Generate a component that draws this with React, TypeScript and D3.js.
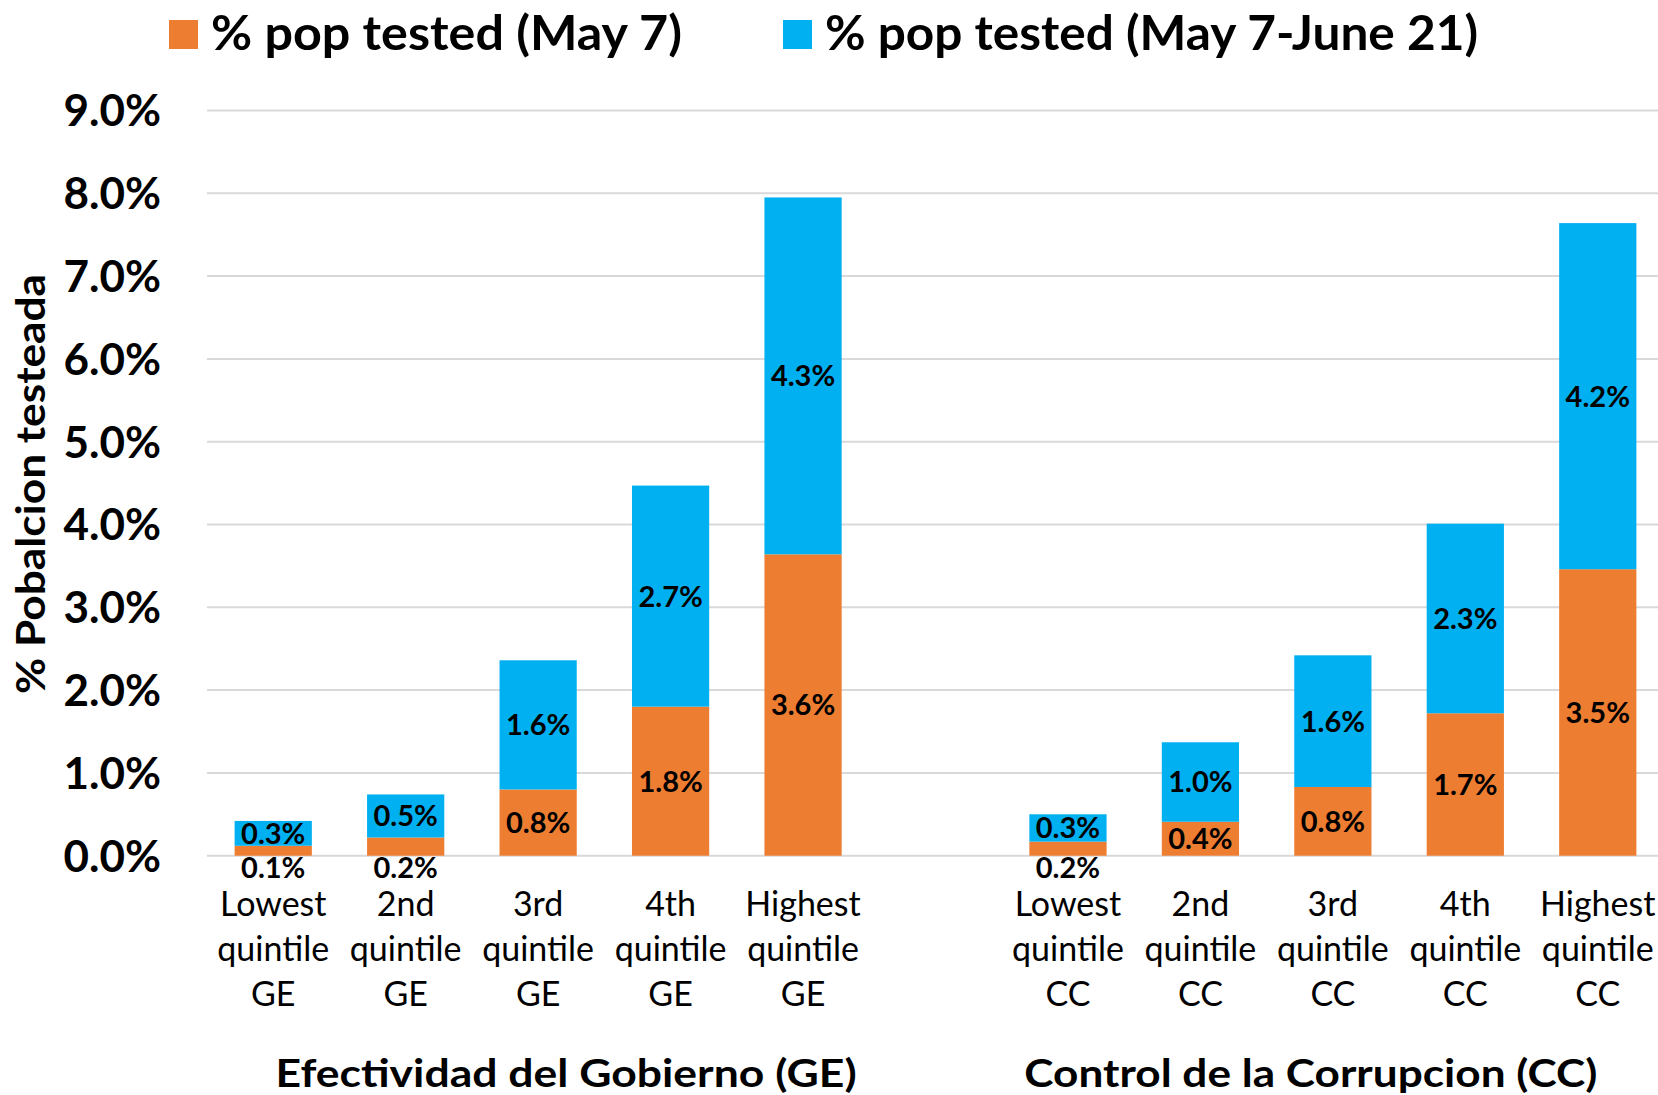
import * as d3 from 'd3'

const W = 1658
const H = 1095

// series, in % of population
const QUINTILES = ['Lowest', '2nd', '3rd', '4th', 'Highest']
const GROUPS = ['GE', 'CC']
const GROUP_TITLES = ['Efectividad del Gobierno (GE)', 'Control de la Corrupcion (CC)']
const GE_MAY7 = [0.12, 0.22, 0.8, 1.8, 3.64]
const GE_JUNE21 = [0.3, 0.52, 1.56, 2.67, 4.31]
const CC_MAY7 = [0.17, 0.41, 0.83, 1.72, 3.46]
const CC_JUNE21 = [0.33, 0.96, 1.59, 2.29, 4.18]
const Y_TICKS = [0, 1, 2, 3, 4, 5, 6, 7, 8, 9]
const LEGEND = ['% pop tested (May 7)', '% pop tested (May 7-June 21)']

const ORANGE = '#ED7D31'
const BLUE = '#00B0F0'
const FONT = 'Lato, "Open Sans", sans-serif'

// 11 slots on the axis: 5 GE, one empty, 5 CC
const CATEGORIES = [
  ...QUINTILES.map((q) => `GE-${q}`),
  'gap',
  ...QUINTILES.map((q) => `CC-${q}`),
]

const rows = [
  ...QUINTILES.map((q, i) => ({ key: `GE-${q}`, quintile: q, group: 'GE', a: GE_MAY7[i], b: GE_JUNE21[i] })),
  ...QUINTILES.map((q, i) => ({ key: `CC-${q}`, quintile: q, group: 'CC', a: CC_MAY7[i], b: CC_JUNE21[i] })),
]

const margin = { left: 207, right: -6, top: 110.5, bottom: H - 855.7 }

export default function App() {
  const x = d3
    .scaleBand()
    .domain(CATEGORIES)
    .range([margin.left, W - margin.right])
    .paddingInner(0.417)
    .paddingOuter(0.2085)
  const y = d3.scaleLinear().domain([0, 9]).range([H - margin.bottom, margin.top])
  const bw = x.bandwidth()
  const fmt = (v: number) => v.toFixed(1) + '%'

  const series = d3.stack<any>().keys(['a', 'b'])(rows)

  // group titles sit a bit off the group centre, as in the original
  const titleOffsets = [28, -22]
  const titleLengths = [581, 573]
  const legendX = [169, 783]
  const legendLengths = [471, 653]

  return (
    <svg
      width={W}
      height={H}
      style={{ position: 'absolute', left: 0, top: 0, background: '#fff' }}
      fontFamily={FONT}
    >
      {/* gridlines */}
      {Y_TICKS.map((t) => (
        <line key={t} x1={margin.left} x2={W} y1={y(t)} y2={y(t)} stroke="#d9d9d9" strokeWidth={2} />
      ))}

      {/* y tick labels */}
      {Y_TICKS.map((t) => (
        <text key={t} x={161} y={y(t)} dy="0.36em" textAnchor="end" fontSize={44} fontWeight={700}>
          {fmt(t)}
        </text>
      ))}

      {/* y title */}
      <text
        transform="translate(45,484) rotate(-90)"
        textAnchor="middle"
        fontSize={41}
        fontWeight={700}
        textLength={420}
        lengthAdjust="spacingAndGlyphs"
      >
        % Pobalcion testeada
      </text>

      {/* bars */}
      {series.map((s, si) => (
        <g key={s.key} fill={si === 0 ? ORANGE : BLUE}>
          {s.map((d) => (
            <rect
              key={d.data.key}
              x={x(d.data.key)}
              y={y(d[1])}
              width={bw}
              height={y(d[0]) - y(d[1])}
            />
          ))}
        </g>
      ))}

      {/* value labels; thin bottom segments get their label under the axis */}
      {series.map((s) =>
        s.map((d) => {
          const top = y(d[1])
          const bottom = y(d[0])
          const small = bottom - top < 24 && d[0] === 0
          const cy = small ? y(0) + 12 : (top + bottom) / 2
          return (
            <text
              key={s.key + d.data.key}
              x={x(d.data.key)! + bw / 2}
              y={cy}
              dy="0.36em"
              textAnchor="middle"
              fontSize={29}
              fontWeight={700}
            >
              {fmt(d[1] - d[0])}
            </text>
          )
        })
      )}

      {/* category labels */}
      {rows.map((r) => (
        <text key={r.key} textAnchor="middle" fontSize={34}>
          {[r.quintile, 'quintile', r.group].map((line, li) => (
            <tspan key={li} x={x(r.key)! + bw / 2} y={916 + li * 45}>
              {line}
            </tspan>
          ))}
        </text>
      ))}

      {/* group titles */}
      {GROUPS.map((g, gi) => (
        <text
          key={g}
          x={x(`${g}-3rd`)! + bw / 2 + titleOffsets[gi]}
          y={1087}
          textAnchor="middle"
          fontSize={39}
          fontWeight={700}
          textLength={titleLengths[gi]}
          lengthAdjust="spacingAndGlyphs"
        >
          {GROUP_TITLES[gi]}
        </text>
      ))}

      {/* legend */}
      {LEGEND.map((label, i) => (
        <g key={label}>
          <rect x={legendX[i]} y={20} width={29} height={29} fill={i === 0 ? ORANGE : BLUE} />
          <text
            x={legendX[i] + 42}
            y={50}
            fontSize={47}
            fontWeight={700}
            textLength={legendLengths[i]}
            lengthAdjust="spacingAndGlyphs"
          >
            {label}
          </text>
        </g>
      ))}
    </svg>
  )
}
